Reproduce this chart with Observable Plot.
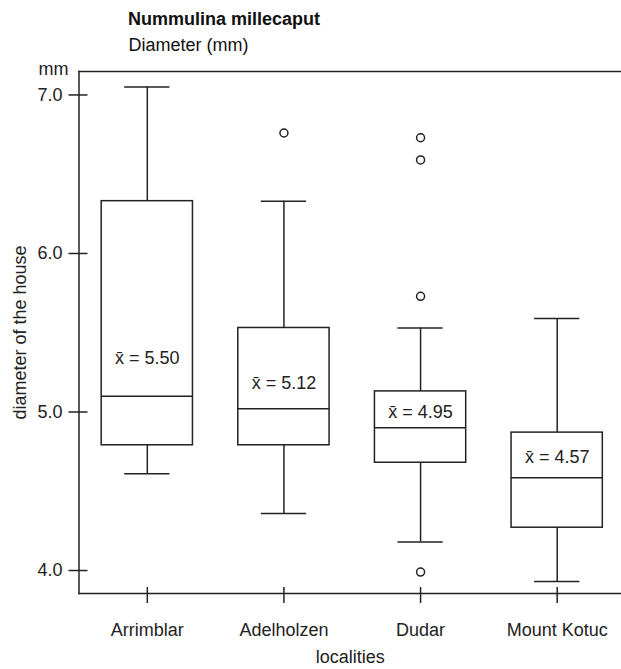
<!DOCTYPE html>
<html><head><meta charset="utf-8">
<script src="https://cdn.jsdelivr.net/npm/d3@7"></script>
<script src="https://cdn.jsdelivr.net/npm/@observablehq/plot@0.6"></script>
<style>
body{margin:0;background:#fff;font-family:"Liberation Sans",Arial,sans-serif;}
#wrap{position:relative;width:621px;height:669px;overflow:hidden;}
.t{position:absolute;left:128px;font-size:18px;line-height:18px;color:#111;white-space:nowrap;z-index:2}
#chart{position:absolute;left:0;top:0;}
</style></head><body>
<div id="wrap">
<div class="t" style="top:10px;font-weight:bold">Nummulina millecaput</div>
<div class="t" style="top:35.5px;left:128.5px">Diameter (mm)</div>
<div id="chart"></div>
</div>
<script>
const localities = ["Arrimblar", "Adelholzen", "Dudar", "Mount Kotuc"];
const whiskerLow = [4.61, 4.36, 4.18, 3.93];
const q1 = [4.79, 4.79, 4.68, 4.27];
const median = [5.10, 5.02, 4.90, 4.585];
const q3 = [6.33, 5.53, 5.13, 4.87];
const whiskerHigh = [7.05, 6.33, 5.53, 5.59];
const means = [5.50, 5.12, 4.95, 4.57];
const meanLabelAt = [5.34, 5.18, 5.00, 4.715];
const outlierLocality = ["Adelholzen", "Dudar", "Dudar", "Dudar", "Dudar"];
const outlierValues = [6.76, 6.73, 6.59, 5.73, 3.99];
const yTicks = [4.0, 5.0, 6.0, 7.0];

const stats = localities.map((loc, i) => ({
  loc, low: whiskerLow[i], q1: q1[i], med: median[i], q3: q3[i], high: whiskerHigh[i],
  mean: means[i], labelAt: meanLabelAt[i]
}));
const outliers = outlierValues.map((v, i) => ({loc: outlierLocality[i], v}));

const ink = "#222";
const sw = 1.5;
const fmt = d3.format(".2f");

const chart = Plot.plot({
  width: 621,
  height: 669,
  marginLeft: 78.5,
  marginRight: 0,
  marginTop: 71,
  marginBottom: 76,
  style: {fontFamily: "'Liberation Sans', Arial, sans-serif", fontSize: "18px", color: ink, background: "transparent"},
  x: {type: "band", domain: localities, range: [78.5, 625], paddingInner: 0.332, paddingOuter: 0.166, round: false, axis: null},
  y: {domain: [3.855, 7.148], axis: null},
  marks: [
    Plot.frame({anchor: "top", stroke: ink, strokeWidth: sw}),
    Plot.frame({anchor: "left", stroke: ink, strokeWidth: sw}),
    Plot.frame({anchor: "bottom", stroke: ink, strokeWidth: sw}),
    Plot.axisY({ticks: yTicks, tickFormat: d3.format(".1f"), tickSize: 19, dx: 9, tickPadding: 6.5, fontSize: 18, label: null, stroke: ink, strokeWidth: sw}),
    Plot.axisX({tickSize: 16, dy: -6, tickPadding: 19.5, fontSize: 18, label: null, stroke: ink, strokeWidth: sw}),
    Plot.ruleX(stats, {x: "loc", y1: "low", y2: "q1", stroke: ink, strokeWidth: sw}),
    Plot.ruleX(stats, {x: "loc", y1: "q3", y2: "high", stroke: ink, strokeWidth: sw}),
    Plot.barY(stats, {x: "loc", y1: "q1", y2: "q3", fill: "white", stroke: ink, strokeWidth: sw}),
    Plot.tickY(stats, {x: "loc", y: "med", stroke: ink, strokeWidth: sw}),
    Plot.tickY(stats, {x: "loc", y: "low", stroke: ink, strokeWidth: sw, inset: 23}),
    Plot.tickY(stats, {x: "loc", y: "high", stroke: ink, strokeWidth: sw, inset: 23}),
    Plot.dot(outliers, {x: "loc", y: "v", r: 4, stroke: ink, strokeWidth: sw, fill: "white"}),
    Plot.text(stats, {x: "loc", y: "labelAt", text: d => `x\u0304 = ${fmt(d.mean)}`, fontSize: 18, fill: ink}),
    Plot.text(["diameter of the house"], {frameAnchor: "left", textAnchor: "middle", lineAnchor: "middle", rotate: -90, dx: -59, fontSize: 18, fill: ink}),
    Plot.text(["mm"], {frameAnchor: "top-left", textAnchor: "start", lineAnchor: "middle", dx: -40.5, dy: -2, fontSize: 18, fill: ink}),
    Plot.text(["localities"], {frameAnchor: "bottom", lineAnchor: "top", dy: 57, fontSize: 18, fill: ink})
  ]
});
document.getElementById("chart").appendChild(chart);
</script>
</body></html>
